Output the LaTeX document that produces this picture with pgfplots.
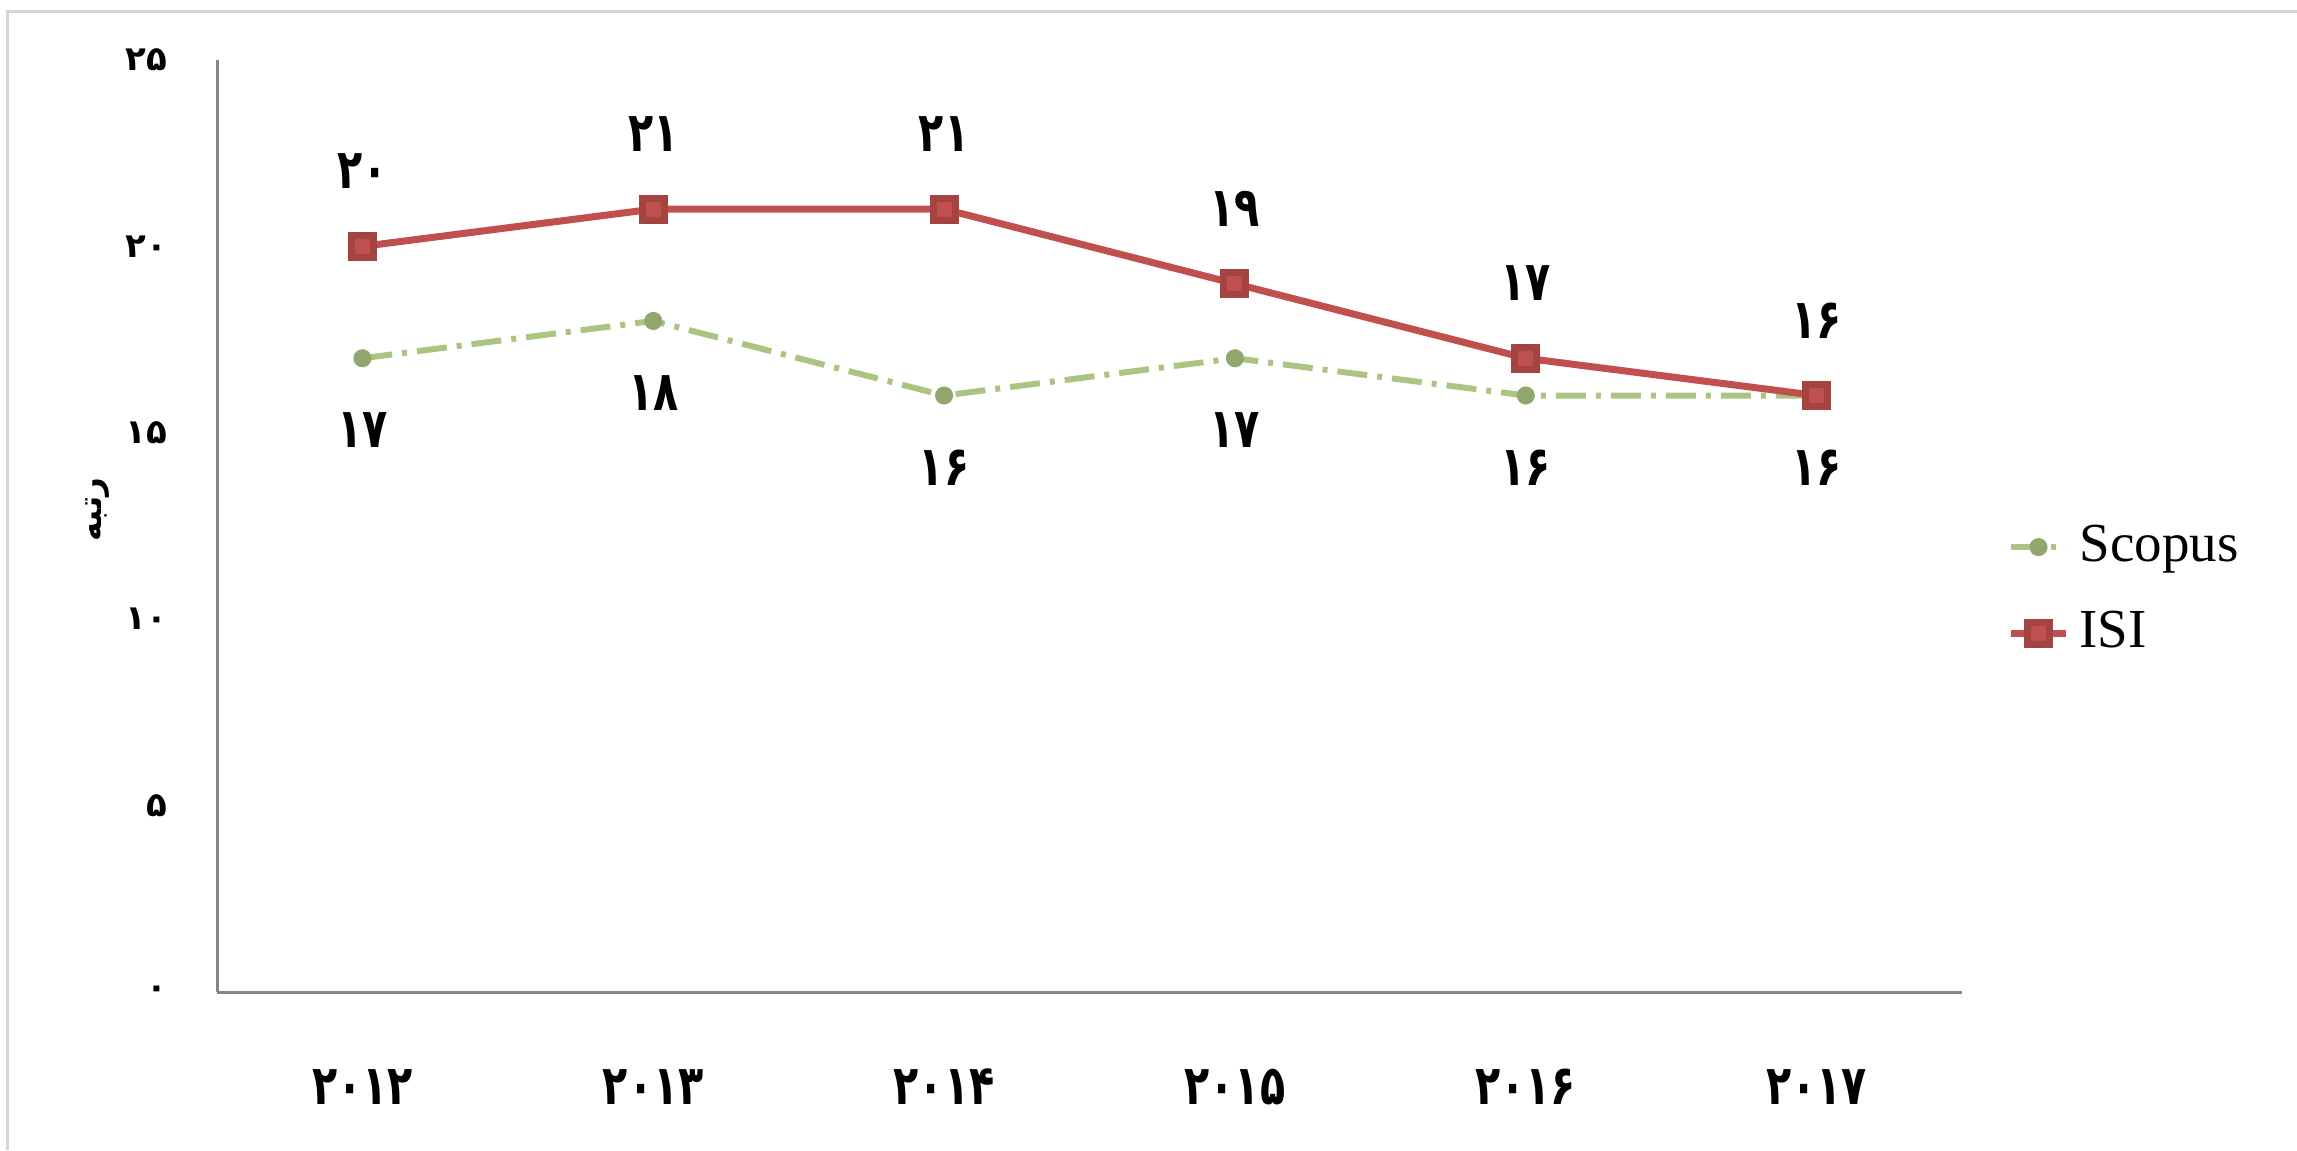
\documentclass[border=0pt]{standalone}
\usepackage{fontspec}
\usepackage{pgfplots}
\pgfplotsset{compat=1.18}
\setmainfont{Liberation Serif}
\newfontfamily\fa[Script=Arabic,FakeStretch=0.75]{DejaVu Sans}
\newfontfamily\faLabel[Script=Arabic]{DejaVu Sans}
\TeXXeTstate=1
\definecolor{isired}{RGB}{192,80,77}
\definecolor{scogreen}{RGB}{172,196,130}
\definecolor{axgray}{RGB}{134,134,134}
\definecolor{frame}{RGB}{210,214,218}
\begin{document}
\begin{tikzpicture}[x=1pt,y=1pt]
\path[use as bounding box] (0,0) rectangle (459.4,230);
\draw[frame, line width=0.6pt] (1.4,0) -- (1.4,227.6) -- (459.4,227.6);
\node[rotate=90, font=\faLabel\bfseries\fontsize{6.5}{8}\selectfont] at (19.5,128) {\beginR رتبه\endR};
\begin{axis}[
  at={(43.4pt,31.6pt)}, anchor=south west,
  scale only axis, width=349pt, height=186.4pt,
  xmin=-0.5, xmax=5.5, ymin=0, ymax=25,
  axis x line=bottom, axis y line=left,
  axis line style={-, draw=axgray, line width=0.6pt},
  major tick length=0pt, tick style={draw=none},
  xtick={0,1,2,3,4,5},
  xticklabels={۲۰۱۲,۲۰۱۳,۲۰۱۴,۲۰۱۵,۲۰۱۶,۲۰۱۷},
  ytick={0,5,10,15,20,25},
  yticklabels={۰,۵,۱۰,۱۵,۲۰,۲۵},
  xticklabel style={font=\fa\bfseries\fontsize{11}{13}\selectfont, anchor=center, inner sep=0pt, yshift=-19pt},
  yticklabel style={font=\faLabel\bfseries\fontsize{6.8}{8}\selectfont, anchor=east, inner sep=0pt, xshift=-9.8pt},
  clip=false,
  legend style={at={(rel axis cs:1.0255,0.431)}, anchor=west, draw=none, fill=none, inner sep=0pt,
    font=\fontsize{11}{13}\selectfont, row sep=4.5pt, cells={anchor=west}},
  legend image code/.code={\draw[mark repeat=2,mark phase=2,#1] plot coordinates {(0pt,0pt) (5.5pt,0pt) (11pt,0pt)};},
  point meta=explicit symbolic,
]
\addplot[scogreen, line width=1.2pt, dash pattern=on 6pt off 2pt on 1pt off 2pt,
  mark=*, mark size=1.2pt, mark options={solid, fill=scogreen!85!black, draw=scogreen!85!black},
  nodes near coords, nodes near coords style={font=\fa\bfseries\fontsize{11}{13}\selectfont, text=black, anchor=center, inner sep=0pt, yshift=-14.4pt}]
  coordinates {(0,17) [۱۷] (1,18) [۱۸] (2,16) [۱۶] (3,17) [۱۷] (4,16) [۱۶] (5,16) [۱۶]};
\addlegendentry{Scopus}
\addplot[isired, line width=1.4pt, mark=square*, mark size=2.2pt, mark options={solid, fill=isired, draw=isired!85!black},
  nodes near coords, nodes near coords style={font=\fa\bfseries\fontsize{11}{13}\selectfont, text=black, anchor=center, inner sep=0pt, yshift=15pt}]
  coordinates {(0,20) [۲۰] (1,21) [۲۱] (2,21) [۲۱] (3,19) [۱۹] (4,17) [۱۷] (5,16) [۱۶]};
\addlegendentry{ISI}
\end{axis}
\end{tikzpicture}
\end{document}
